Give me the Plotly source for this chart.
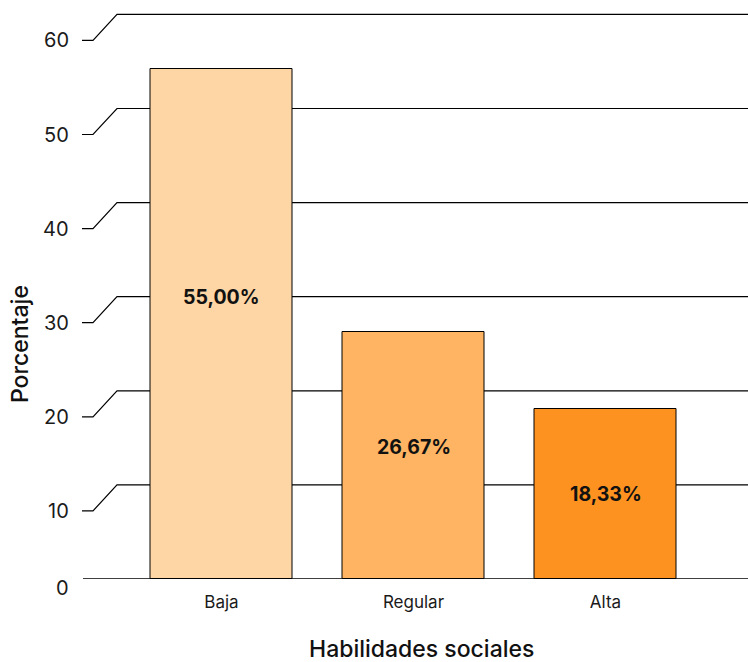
import plotly.graph_objects as go

# ---- data ----
categories = ["Baja", "Regular", "Alta"]
values = [55.00, 26.67, 18.33]
value_labels = ["55,00%", "26,67%", "18,33%"]
y_ticks = [0, 10, 20, 30, 40, 50, 60]
x_title = "Habilidades sociales"
y_title = "Porcentaje"

# ---- style / layout ----
bar_colors = ["#FED5A4", "#FEB462", "#FE9220"]
label_yshift = [27, 8, 0]
W, H = 748, 662
FONT = "Inter"
base_px = 579          # pixel row of the floor
bar_scale = 9.274      # px per unit for bars
grid_scale = 9.41      # px per unit on back wall
depth_dx, depth_dy = 24, 26

y_dom0 = 1 - base_px / H

fig = go.Figure()
fig.add_trace(go.Bar(
    x=categories, y=values, width=0.742,
    marker=dict(color=bar_colors, line=dict(color="black", width=1)),
    hoverinfo="skip", showlegend=False,
))

shapes = []
annotations = []
off = depth_dy / grid_scale
tick_font = dict(family=FONT, size=20, color="#1a1a1a")
for v in y_ticks:
    if v == 0:
        shapes.append(dict(type="line", xref="paper", yref="y2",
                           x0=83 / W, x1=1, y0=0, y1=0,
                           line=dict(color="black", width=1.4), layer="below"))
        annotations.append(dict(text=str(v), xref="paper", yref="y2",
                                x=71 / W, y=0, yshift=-9, xanchor="right",
                                yanchor="middle", showarrow=False, font=tick_font))
        continue
    path = (f"M {82 / W},{v - off} L {93 / W},{v - off} "
            f"L {(93 + depth_dx) / W},{v} L 1,{v}")
    shapes.append(dict(type="path", xref="paper", yref="y2", path=path,
                       line=dict(color="black", width=1.2), layer="below"))
    annotations.append(dict(text=str(v), xref="paper", yref="y2",
                            x=71 / W, y=v - off, xanchor="right",
                            yanchor="middle", showarrow=False, font=tick_font))

for c, v, t, s in zip(categories, values, value_labels, label_yshift):
    annotations.append(dict(text=f"<b>{t}</b>", x=c, y=v / 2, xref="x", yref="y",
                            yshift=s, showarrow=False,
                            font=dict(family=FONT, size=19.5, color="#111")))

annotations.append(dict(text=y_title, xref="paper", yref="paper",
                        x=20 / W, y=1 - 344 / H, textangle=-90,
                        xanchor="center", yanchor="middle", showarrow=False,
                        font=dict(family=FONT, size=23, color="#111", weight=500)))
annotations.append(dict(text=x_title, xref="paper", yref="paper",
                        x=421 / W, y=0, yshift=-3, xanchor="center", yanchor="bottom",
                        showarrow=False,
                        font=dict(family=FONT, size=23, color="#111", weight=500)))

fig.update_layout(
    width=W, height=H,
    margin=dict(l=0, r=0, t=0, b=0),
    paper_bgcolor="white", plot_bgcolor="rgba(0,0,0,0)",
    bargap=0,
    xaxis=dict(domain=[125.5 / W, 701.5 / W], range=[-0.5, 2.5], type="category",
               showgrid=False, zeroline=False, showline=False,
               ticks="outside", ticklen=8, tickcolor="rgba(0,0,0,0)",
               tickfont=dict(family=FONT, size=17, color="#1a1a1a")),
    yaxis=dict(domain=[y_dom0, 1], range=[0, base_px / bar_scale],
               showgrid=False, zeroline=False, showline=False,
               showticklabels=False, ticks=""),
    yaxis2=dict(overlaying="y", range=[0, base_px / grid_scale],
                showgrid=False, zeroline=False, showline=False,
                showticklabels=False, ticks=""),
    shapes=shapes,
    annotations=annotations,
)

fig.write_html(
    "out.html",
    config={"displayModeBar": False},
    post_script="document.body.style.margin='0';document.body.style.overflow='hidden';",
)
